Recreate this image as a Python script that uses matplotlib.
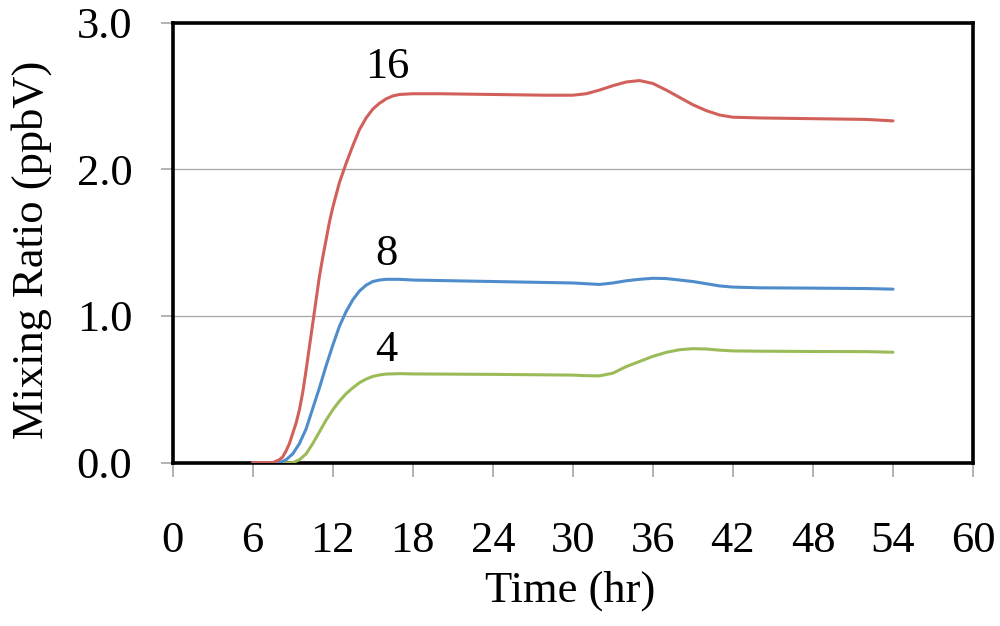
import numpy as np
import matplotlib
matplotlib.use("Agg")
import matplotlib.pyplot as plt

plt.rcParams['font.family'] = ['Liberation Serif', 'DejaVu Serif']

# series: time (hr) and mixing ratio (ppbV)
t_16 = [6, 7, 7.5, 8, 8.25, 8.5, 8.75, 9, 9.25, 9.5, 9.75, 10, 10.25, 10.5, 10.75, 11,
        11.25, 11.5, 11.75, 12, 12.5, 13, 13.5, 14, 14.5, 15, 15.5, 16, 16.5, 17, 18,
        20, 24, 28, 30, 31, 32, 33, 34, 35, 36, 37, 38, 39, 40, 41, 42, 44, 48, 52, 54]
v_16 = [0, 0, 0, 0.02, 0.04, 0.08, 0.13, 0.2, 0.27, 0.36, 0.48, 0.63, 0.79, 0.95, 1.11,
        1.27, 1.40, 1.52, 1.64, 1.74, 1.91, 2.04, 2.16, 2.27, 2.35, 2.41, 2.45, 2.48,
        2.50, 2.51, 2.515, 2.515, 2.51, 2.505, 2.505, 2.515, 2.54, 2.57, 2.595, 2.605,
        2.585, 2.54, 2.49, 2.44, 2.40, 2.37, 2.355, 2.35, 2.345, 2.34, 2.33]

t_8 = [6, 7, 8, 8.5, 9, 9.5, 10, 10.5, 11, 11.5, 12, 12.5, 13, 13.5, 14, 14.5, 15,
       15.5, 16, 17, 18, 24, 30, 31, 32, 33, 34, 35, 36, 37, 38, 39, 40, 41, 42, 44,
       48, 52, 54]
v_8 = [0, 0, 0, 0.02, 0.06, 0.13, 0.23, 0.37, 0.51, 0.66, 0.80, 0.93, 1.03, 1.11,
       1.17, 1.21, 1.235, 1.245, 1.25, 1.25, 1.245, 1.235, 1.225, 1.22, 1.215, 1.225,
       1.24, 1.25, 1.257, 1.255, 1.245, 1.235, 1.22, 1.205, 1.197, 1.192, 1.19, 1.187,
       1.183]

t_4 = [6, 8, 9, 9.5, 10, 10.5, 11, 11.5, 12, 12.5, 13, 13.5, 14, 14.5, 15, 15.5, 16,
       17, 18, 24, 30, 31, 32, 33, 34, 35, 36, 37, 38, 39, 40, 41, 42, 44, 48, 52, 54]
v_4 = [0, 0, 0, 0.02, 0.06, 0.13, 0.21, 0.29, 0.36, 0.42, 0.47, 0.51, 0.545, 0.57,
       0.588, 0.598, 0.604, 0.607, 0.605, 0.602, 0.597, 0.593, 0.592, 0.61, 0.655,
       0.69, 0.725, 0.752, 0.77, 0.777, 0.775, 0.767, 0.762, 0.76, 0.758, 0.757, 0.753]

labels = ['16', '8', '4']
label_x = [16.1, 16.0, 16.0]
label_y = [2.70, 1.42, 0.77]

fig = plt.figure(figsize=(10, 6.26), dpi=100)
ax = fig.add_axes([0.1727, 0.2609, 0.8003, 0.703])

# green first, red last so red sits on top along the zero line
ax.plot(t_4, v_4, color='#9bbb59', lw=2.2, zorder=3, solid_capstyle='round')
ax.plot(t_8, v_8, color='#4f8ccb', lw=2.2, zorder=3, solid_capstyle='round')
ax.plot(t_16, v_16, color='#d2605a', lw=2.2, zorder=3, solid_capstyle='round')

for s, x, y in zip(labels, label_x, label_y):
    ax.text(x, y, s, fontsize=32, ha='center', va='center')

ax.set_xlim(0, 60)
ax.set_ylim(0, 3.0)
ax.set_xticks(np.arange(0, 61, 6))
ax.set_yticks([0, 1, 2, 3])
ax.set_yticklabels(['0.0', '1.0', '2.0', '3.0'])
ax.yaxis.grid(True, color='#a6a6a6', lw=0.9)
ax.set_axisbelow(True)

ax.tick_params(axis='x', direction='out', length=10, width=1.2, color='#a6a6a6',
               pad=32, labelsize=32)
ax.tick_params(axis='y', direction='out', length=9, width=1.2, color='#a6a6a6',
               pad=20, labelsize=32)

for sp in ax.spines.values():
    sp.set_linewidth(2.6)
    sp.set_color('black')

ax.set_xlabel('Time (hr)', fontsize=32)
ax.set_ylabel('Mixing Ratio (ppbV)', fontsize=32)
ax.xaxis.set_label_coords(0.497, -0.245)
ax.yaxis.set_label_coords(-0.151, 0.483)

fig.savefig('out.png', dpi=100)
